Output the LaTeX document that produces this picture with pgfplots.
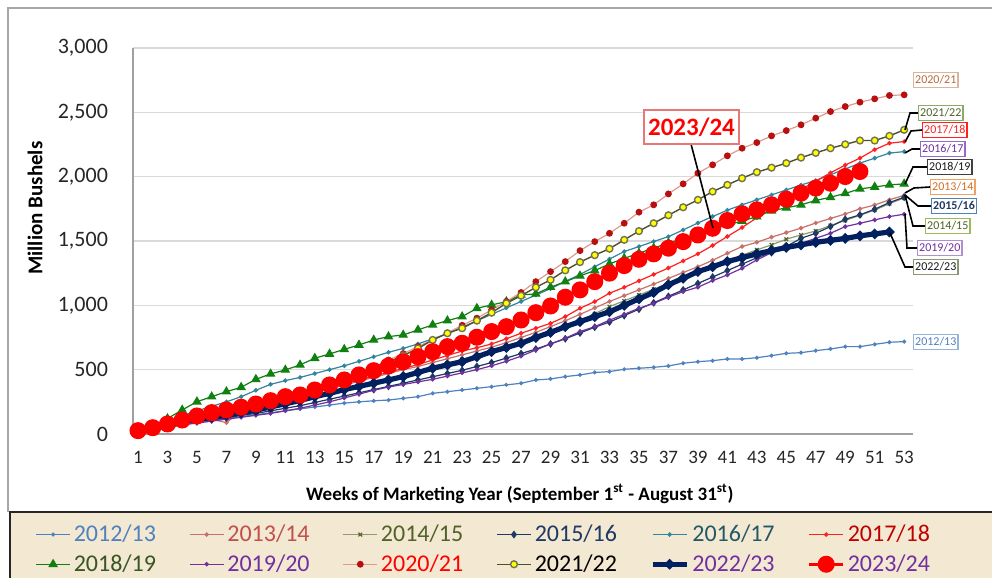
\documentclass[border=0pt]{standalone}
\usepackage{pgfplots}
\pgfplotsset{compat=1.18}
\usepackage{pgfplotstable}
\usepackage{fontspec}
\setmainfont{Carlito}

\definecolor{framegray}{HTML}{A6A6A6}
\definecolor{gridgray}{HTML}{D9D9D9}
\definecolor{axisgray}{HTML}{A0A0A0}
\definecolor{textdark}{HTML}{262626}
\definecolor{legbg}{HTML}{F3E8D2}
\definecolor{cA}{HTML}{4F81BD}
\definecolor{cB}{HTML}{C8706A}
\definecolor{cBt}{HTML}{C0504D}
\definecolor{cC}{HTML}{8E9B6E}
\definecolor{cCt}{HTML}{4F6228}
\definecolor{cD}{HTML}{1F3864}
\definecolor{cE}{HTML}{31859C}
\definecolor{cEt}{HTML}{215967}
\definecolor{cF}{HTML}{FF2020}
\definecolor{cFt}{HTML}{C00000}
\definecolor{cG}{HTML}{108010}
\definecolor{cGt}{HTML}{375623}
\definecolor{cH}{HTML}{7030A0}
\definecolor{cIline}{HTML}{E09A8C}
\definecolor{cImark}{HTML}{B81010}
\definecolor{cJline}{HTML}{505028}
\definecolor{cJmark}{HTML}{FFFF00}
\definecolor{cK}{HTML}{002060}
\definecolor{cL}{HTML}{FF0000}

\pgfplotstableread{
w a b c d e f g h i j k l
1 20 20 15 15 20 20 25 15 20 15 25 26
2 40 45 35 35 50 45 60 30 45 40 50 49
3 58 75 60 55 90 70 120 50 70 70 75 78
4 75 95 85 75 140 95 187 70 100 100 100 109
5 90 110 105 95 180 120 251 85 125 125 115 140
6 105 115 125 110 215 145 290 100 150 150 130 166
7 120 88 145 125 250 170 329 115 175 175 145 187
8 135 180 165 145 290 195 363 130 200 200 165 208
9 150 205 185 160 340 220 425 145 230 230 185 233
10 165 230 205 180 386 245 467 160 260 260 210 259
11 180 255 225 200 415 270 498 180 290 290 235 290
12 195 285 250 220 440 300 537 200 320 320 260 303
13 210 320 280 245 470 330 589 225 350 355 290 342
14 225 350 310 270 500 360 622 250 380 390 316 381
15 240 380 340 295 530 390 658 280 420 430 345 420
16 250 410 370 320 565 420 692 310 465 470 370 459
17 258 440 400 345 600 450 731 340 520 515 395 492
18 264 470 430 370 635 480 757 365 575 560 420 529
19 277 500 460 395 665 510 770 385 625 610 446 562
20 290 525 490 420 700 540 809 405 680 665 478 601
21 316 555 520 445 740 575 848 425 731 731 511 640
22 329 585 550 470 780 610 881 450 785 783 537 679
23 342 615 580 495 830 645 912 475 845 822 562 705
24 355 645 610 525 880 670 977 500 900 881 600 752
25 368 675 640 555 930 700 1003 530 965 943 640 796
26 382 710 675 590 980 740 1029 565 1030 1016 672 834
27 394 750 710 625 1030 783 1081 605 1100 1075 705 886
28 420 790 750 660 1080 822 1089 653 1184 1140 750 943
29 428 835 795 700 1130 860 1141 700 1262 1198 790 995
30 446 880 840 740 1185 912 1184 744 1340 1272 834 1063
31 459 930 885 785 1240 977 1229 796 1425 1336 873 1120
32 478 980 935 830 1300 1029 1270 834 1495 1390 912 1184
33 485 1030 990 870 1360 1094 1322 885 1560 1440 950 1250
34 503 1075 1035 920 1418 1140 1365 930 1638 1509 1000 1309
35 511 1120 1080 970 1457 1190 1405 977 1724 1577 1050 1358
36 518 1165 1125 1020 1496 1240 1445 1016 1781 1638 1100 1400
37 529 1210 1170 1070 1534 1290 1485 1063 1866 1700 1160 1444
38 550 1255 1215 1120 1586 1345 1520 1107 1944 1762 1210 1495
39 562 1300 1260 1170 1640 1400 1555 1141 2027 1820 1262 1547
40 570 1350 1300 1220 1690 1465 1590 1192 2092 1884 1300 1599
41 583 1405 1345 1270 1740 1535 1625 1236 2162 1936 1340 1659
42 583 1457 1390 1320 1781 1605 1655 1288 2221 1988 1370 1711
43 593 1490 1431 1370 1820 1680 1690 1353 2265 2035 1400 1742
44 609 1530 1470 1410 1858 1755 1735 1410 2317 2070 1425 1781
45 627 1565 1514 1457 1897 1830 1758 1452 2358 2105 1450 1825
46 632 1600 1547 1521 1935 1900 1781 1482 2403 2148 1470 1872
47 648 1640 1578 1560 1970 1965 1815 1521 2455 2185 1490 1911
48 661 1675 1620 1612 2015 2030 1840 1560 2506 2221 1505 1949
49 679 1710 1660 1669 2060 2090 1870 1612 2545 2251 1520 2001
50 679 1750 1700 1703 2105 2144 1905 1638 2579 2281 1540 2040
51 697 1780 1740 1747 2144 2210 1920 1664 2605 2281 1555 nan
52 713 1820 1790 1799 2183 2260 1936 1690 2631 2317 1570 nan
53 718 1855 1835 1840 2195 2273 1944 1708 2636 2364 nan nan
}\data

\begin{document}
\begin{tikzpicture}
\useasboundingbox (-66.5pt,-72pt) rectangle (429.5pt,217pt);
% background frame and legend panel (pixel coordinates)
\begin{scope}[x=0.5pt,y=-0.5pt,shift={(-66.5pt,217pt)}]
  \fill[legbg] (10,512) rectangle (1000,600);
  \draw[framegray, line width=1pt] (8,512) -- (8,8) -- (1000,8);
  \draw[black!85, line width=1.2pt] (10,600) -- (10,512) -- (1000,512);
\end{scope}

\begin{axis}[
  at={(0,0)}, anchor=south west,
  scale only axis, width=390pt, height=193pt,
  xmin=0.66, xmax=53.6, ymin=0, ymax=3000,
  axis x line*=bottom, axis y line*=left,
  axis line style={draw=axisgray, line width=1pt, -},
  xtick={1,3,...,53}, ytick={0,500,...,3000},
  major tick length=0pt,
  ymajorgrids, grid style={draw=gridgray, line width=0.8pt},
  tick label style={text=textdark},
  yticklabel style={font=\fontsize{11}{12}\selectfont, xshift=-9pt},
  xticklabel style={font=\fontsize{9.5}{11}\selectfont, yshift=-5pt},
  /pgf/number format/assume math mode=true,
  /pgf/number format/1000 sep={,},
  ylabel={Million Bushels},
  ylabel style={font=\bfseries\fontsize{10.5}{12}\selectfont, text=black, at={(axis description cs:-0.1256,0.585)}, anchor=center},
  xlabel={Weeks of Marketing Year (September 1\textsuperscript{st} - August 31\textsuperscript{st})},
  xlabel style={font=\bfseries\fontsize{9.5}{11}\selectfont, text=black, at={(axis description cs:0.496,-0.155)}, anchor=center},
  clip=false,
  legend columns=6,
  legend cell align=left,
  legend style={at={(axis description cs:-0.1256,-0.299)}, anchor=west,
    draw=none, fill=none, inner sep=0pt,
    font=\fontsize{12}{13}\selectfont,
    nodes={inner sep=1.5pt}, row sep=2pt,
    /tikz/every even column/.append style={column sep=15pt}},
]
\addplot[color=cA, line width=0.6pt, mark=*, mark size=0.7pt] table[x=w,y=a]{\data};
\addlegendentry{\textcolor{cA}{2012/13}}
\addplot[color=cB, line width=0.6pt, mark=*, mark size=0.8pt] table[x=w,y=b]{\data};
\addlegendentry{\textcolor{cBt}{2013/14}}
\addplot[color=cC, line width=0.6pt, mark=x, mark size=1.3pt, mark options={color=cCt}] table[x=w,y=c]{\data};
\addlegendentry{\textcolor{cCt}{2014/15}}
\addplot[color=cD, line width=0.6pt, mark=diamond*, mark size=1.5pt] table[x=w,y=d]{\data};
\addlegendentry{\textcolor{cD}{2015/16}}
\addplot[color=cE, line width=0.6pt, mark=*, mark size=0.8pt] table[x=w,y=e]{\data};
\addlegendentry{\textcolor{cEt}{2016/17}}
\addplot[color=cF, line width=0.6pt, mark=*, mark size=0.8pt] table[x=w,y=f]{\data};
\addlegendentry{\textcolor{cFt}{2017/18}}
\addplot[color=cG, line width=0.6pt, mark=triangle*, mark size=2.2pt] table[x=w,y=g]{\data};
\addlegendentry{\textcolor{cGt}{2018/19}}
\addplot[color=cH, line width=0.6pt, mark=*, mark size=0.8pt] table[x=w,y=h]{\data};
\addlegendentry{\textcolor{cH}{2019/20}}
\addplot[color=cIline, line width=0.6pt, mark=*, mark size=1.4pt, mark options={fill=cImark, draw=cImark}] table[x=w,y=i]{\data};
\addlegendentry{\textcolor{cL}{2020/21}}
\addplot[color=cJline, line width=0.7pt, mark=*, mark size=1.7pt, mark options={fill=cJmark, draw=cJline!80}] table[x=w,y=j]{\data};
\addlegendentry{\textcolor{black}{2021/22}}
\addplot[color=cK, line width=2.6pt, mark=*, mark size=0.9pt] table[x=w,y=k]{\data};
\addlegendentry{\textcolor{cH}{2022/23}}
\addplot[color=cL, line width=1.5pt, mark=*, mark size=3.5pt] table[x=w,y=l]{\data};
\addlegendentry{\textcolor{cH}{2023/24}}
\end{axis}

% annotations in pixel coordinates
\begin{scope}[x=0.5pt,y=-0.5pt,shift={(-66.5pt,217pt)},
  lab/.style={fill=white, line width=0.6pt, inner sep=0.8pt, minimum height=7.2pt, font=\fontsize{6}{7}\selectfont},
  lead/.style={black, line width=0.8pt}]
  \draw[lead] (905,130) -- (910,113) -- (918,113);
  \draw[lead] (905,142) -- (911,131) -- (922,130);
  \draw[lead] (905,153) -- (912,149) -- (920,149);
  \draw[lead] (905,184) -- (913,167) -- (927,167);
  \draw[lead] (905,193) -- (914,188) -- (930,187);
  \draw[lead] (905,195) -- (918,206) -- (931,206);
  \draw[lead] (905,195) -- (913,226) -- (925,226);
  \draw[lead] (905,214) -- (907,248) -- (917,248);
  \draw[lead] (890,233) -- (905,267) -- (913,267);
  \node[lab, draw={rgb,255:red,217;green,181;blue,156}, text={rgb,255:red,184;green,105;blue,60}, anchor=west] at (913,80) {2020/21};
  \node[lab, draw={rgb,255:red,142;green,168;blue,106}, text=cCt, anchor=west] at (918,113) {2021/22};
  \node[lab, draw=cF, text=cF, anchor=west] at (922,130) {2017/18};
  \node[lab, draw={rgb,255:red,153;green,102;blue,204}, text=cH, anchor=west] at (920,149) {2016/17};
  \node[lab, draw=black!75, text=black!90, anchor=west] at (927,167) {2018/19};
  \node[lab, draw={rgb,255:red,240;green,160;blue,96}, text={rgb,255:red,210;green,110;blue,40}, anchor=west] at (930,187) {2013/14};
  \node[lab, draw=cA, text=cD, anchor=west, font=\bfseries\fontsize{6}{7}\selectfont] at (931,206) {2015/16};
  \node[lab, draw={rgb,255:red,155;green,187;blue,89}, text=cCt, anchor=west] at (925,226) {2014/15};
  \node[lab, draw={rgb,255:red,176;green,144;blue,208}, text=cH, anchor=west] at (917,248) {2019/20};
  \node[lab, draw={rgb,255:red,138;green,154;blue,112}, text=black!90, anchor=west] at (913,267) {2022/23};
  \node[lab, draw={rgb,255:red,149;green,179;blue,215}, text=cA, anchor=west] at (913,342) {2012/13};
  \draw[black, line width=0.8pt] (691,144) -- (713,228);
  \node[fill=white, draw={rgb,255:red,230;green,120;blue,120}, line width=0.6pt, text=cL,
        font=\bfseries\fontsize{12.5}{14}\selectfont, minimum width=47.5pt, minimum height=17pt, inner sep=1pt]
        at (691.5,127) {2023/24};
\end{scope}
\end{tikzpicture}
\end{document}
